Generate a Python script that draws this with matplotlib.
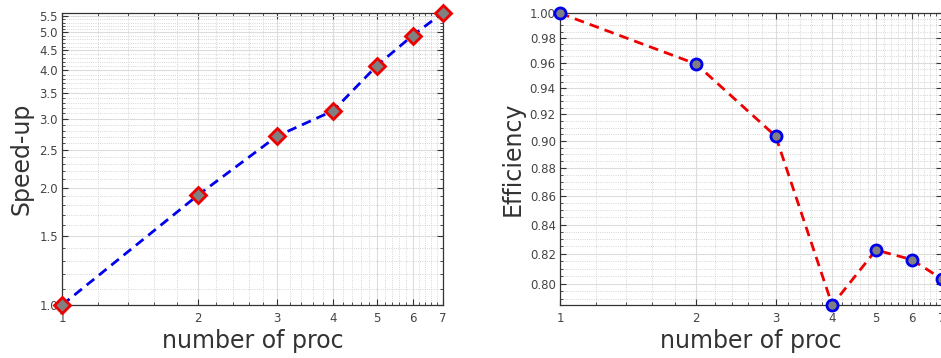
import numpy as np
import matplotlib
matplotlib.use("Agg")
import matplotlib.pyplot as plt
from matplotlib.ticker import FixedLocator, FormatStrFormatter, NullFormatter

# data
procs = [1, 2, 3, 4, 5, 6, 7]
speedup = [1.0, 1.91, 2.71, 3.15, 4.11, 4.91, 5.61]
efficiency = [1.0, 0.959, 0.9035, 0.786, 0.8225, 0.816, 0.803]

x_ticks = [1, 2, 3, 4, 5, 6, 7]
speed_ticks = [1.0, 1.5, 2.0, 2.5, 3.0, 3.5, 4.0, 4.5, 5.0, 5.5]
eff_ticks = [0.80, 0.82, 0.84, 0.86, 0.88, 0.90, 0.92, 0.94, 0.96, 0.98, 1.00]

fig = plt.figure(figsize=(9.41, 3.58), dpi=100)
ax1 = fig.add_axes([0.0659, 0.148, 0.4046, 0.815])
ax2 = fig.add_axes([0.5951, 0.148, 0.406, 0.815])


def style(ax, yticks, yminor, yfmt):
    ax.set_xscale('log')
    ax.set_yscale('log')
    ax.xaxis.set_major_locator(FixedLocator(x_ticks))
    ax.xaxis.set_minor_locator(FixedLocator(np.arange(1.2, 7.0, 0.2)))
    ax.xaxis.set_major_formatter(FormatStrFormatter('%d'))
    ax.xaxis.set_minor_formatter(NullFormatter())
    ax.yaxis.set_major_locator(FixedLocator(yticks))
    ax.yaxis.set_minor_locator(FixedLocator(yminor))
    ax.yaxis.set_major_formatter(FormatStrFormatter(yfmt))
    ax.yaxis.set_minor_formatter(NullFormatter())
    ax.grid(True, which='major', color='#dcdcdc', linestyle='-', linewidth=0.8)
    ax.grid(True, which='minor', color='#c8c8c8', linestyle=':', linewidth=0.6)
    ax.set_axisbelow(True)
    ax.tick_params(which='both', direction='in', top=True, right=True,
                   colors='#333333', labelcolor='#444444', labelsize=8.5)
    ax.tick_params(which='major', length=4, width=0.8, pad=5)
    ax.tick_params(axis='y', which='major', pad=3)
    ax.tick_params(which='minor', length=2, width=0.6)
    for s in ax.spines.values():
        s.set_color('#333333')
        s.set_linewidth(0.9)
    ax.set_xlabel('number of proc', fontsize=17, color='#333333', labelpad=3)


# speed-up
ax1.plot(procs, speedup, '--', color='#0000ee', linewidth=2, dashes=(3.5, 2.2),
         marker='D', markersize=8, markerfacecolor='#808080',
         markeredgecolor='#ee0000', markeredgewidth=2, clip_on=False, zorder=3)
style(ax1, speed_ticks, np.arange(1.1, 5.6, 0.1), '%.1f')
ax1.set_xlim(1, 7)
ax1.set_ylim(1.0, 5.6)
ax1.set_ylabel('Speed-up', fontsize=17, color='#333333', labelpad=4)

# efficiency
ax2.plot(procs, efficiency, '--', color='#ee0000', linewidth=2, dashes=(3.5, 2.2),
         marker='o', markersize=8, markerfacecolor='#808080',
         markeredgecolor='#0000ee', markeredgewidth=2, clip_on=False, zorder=3)
style(ax2, eff_ticks, np.arange(0.79, 1.0, 0.005), '%.2f')
ax2.set_xlim(1, 7)
ax2.set_ylim(0.786, 1.0)
ax2.set_ylabel('Efficiency', fontsize=17, color='#333333', labelpad=4)

fig.savefig('out.png', dpi=100)
